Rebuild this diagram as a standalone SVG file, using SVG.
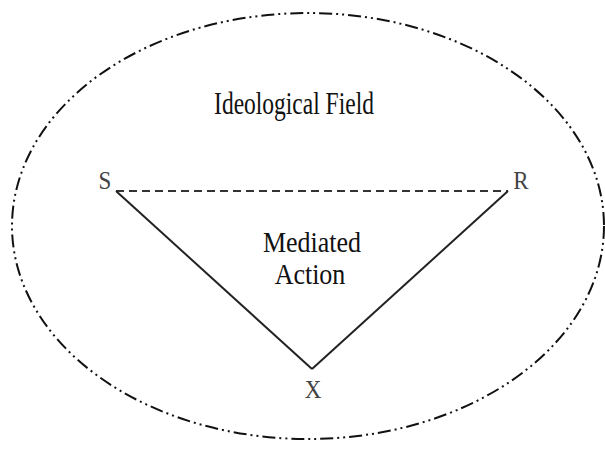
<svg xmlns="http://www.w3.org/2000/svg" width="605" height="451" viewBox="0 0 605 451">
  <style>
    .lbl { font-family: "Liberation Serif", "Times New Roman", serif; fill: #111; text-anchor: middle; }
    .vtx { fill: #444; font-size: 23px; }
    .field { fill: none; stroke: #111; stroke-width: 2; stroke-dasharray: 13 4 2 4 2 4; }
    .side { stroke: #222; stroke-width: 2; fill: none; }
    .base { stroke: #333; stroke-width: 2; stroke-dasharray: 8 5; fill: none; }
  </style>
  <rect width="605" height="451" fill="#fff"/>
  <g id="field">
    <ellipse class="field" cx="308" cy="226" rx="296" ry="213"/>
    <text class="lbl" font-size="23.5" transform="translate(294 114) scale(1 1.35)">Ideological Field</text>
  </g>
  <g id="connectors">
    <line class="base" x1="116" y1="191" x2="508" y2="191"/>
    <line class="side" x1="116" y1="191" x2="312" y2="369"/>
    <line class="side" x1="312" y1="369" x2="508" y2="191"/>
  </g>
  <g id="S"><text class="lbl vtx" transform="translate(105 189) scale(1 1.1)">S</text></g>
  <g id="R"><text class="lbl vtx" transform="translate(521 189) scale(1 1.1)">R</text></g>
  <g id="X"><text class="lbl vtx" transform="translate(313 398) scale(1 1.1)">X</text></g>
  <g id="action">
    <text class="lbl" font-size="26" transform="translate(312 252) scale(1 1.15)">Mediated</text>
    <text class="lbl" font-size="26" transform="translate(310 284) scale(1 1.15)">Action</text>
  </g>
</svg>
